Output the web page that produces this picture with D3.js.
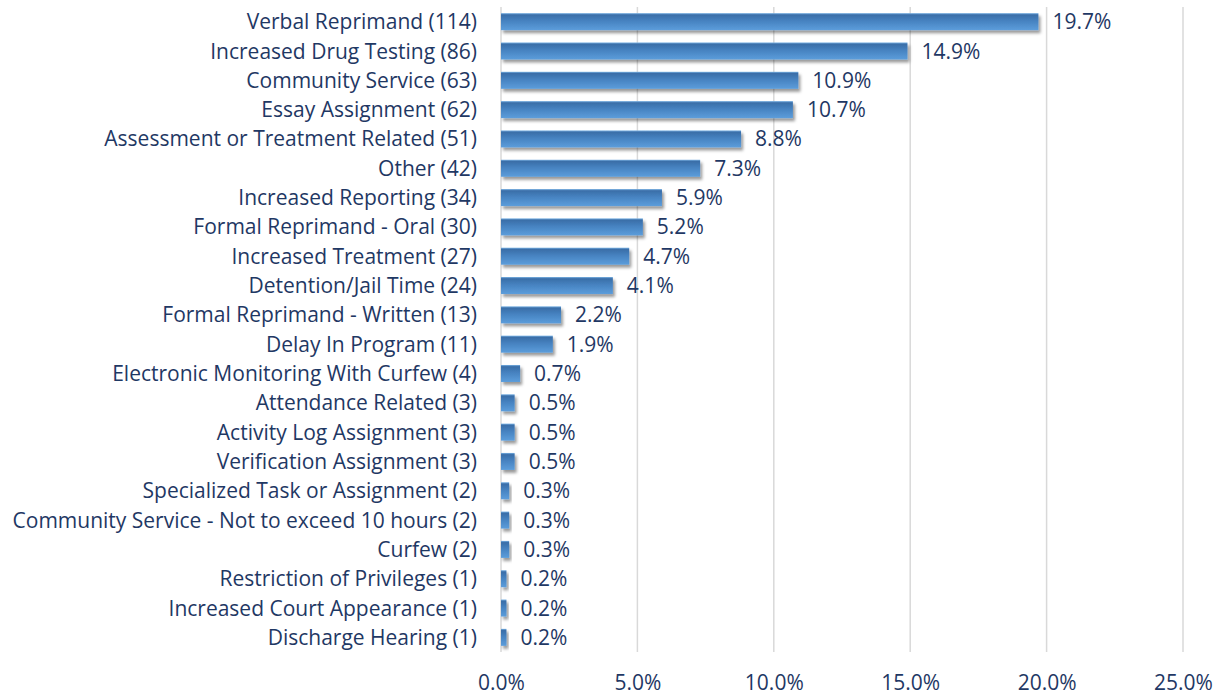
<!DOCTYPE html>
<html><head><meta charset="utf-8">
<script src="https://cdn.jsdelivr.net/npm/d3@7"></script>
<style>body{margin:0;background:#fff;} text{font-family:"Open Sans", Lato, sans-serif;}</style>
</head><body><svg id="c" width="1221" height="698"></svg>
<script>
const categories = ["Verbal Reprimand (114)","Increased Drug Testing (86)","Community Service (63)","Essay Assignment (62)","Assessment or Treatment Related (51)","Other (42)","Increased Reporting (34)","Formal Reprimand - Oral (30)","Increased Treatment (27)","Detention/Jail Time (24)","Formal Reprimand - Written (13)","Delay In Program (11)","Electronic Monitoring With Curfew (4)","Attendance Related (3)","Activity Log Assignment (3)","Verification Assignment (3)","Specialized Task or Assignment (2)","Community Service - Not to exceed 10 hours (2)","Curfew (2)","Restriction of Privileges (1)","Increased Court Appearance (1)","Discharge Hearing (1)"];
const values = [19.7,14.9,10.9,10.7,8.8,7.3,5.9,5.2,4.7,4.1,2.2,1.9,0.7,0.5,0.5,0.5,0.3,0.3,0.3,0.2,0.2,0.2];
const ticks = [0,5,10,15,20,25];

const svg = d3.select("#c");
const m = {left:501, right:1183, top:7, bottom:652};
const x = d3.scaleLinear().domain([0,25]).range([m.left, m.right]);
const y = d3.scaleBand().domain(categories).range([m.top, m.bottom]).paddingInner(0.42).paddingOuter(0.21);
const txt = "#1F3864";
const fs = 21;

const defs = svg.append("defs");
const g = defs.append("linearGradient").attr("id","bar").attr("x1",0).attr("y1",0).attr("x2",0).attr("y2",1);
[[0,"#7ab2e4"],[0.1,"#3a6ea8"],[0.45,"#4682c0"],[1,"#5c9ddb"]].forEach(([o,c])=>g.append("stop").attr("offset",o).attr("stop-color",c));
const f = defs.append("filter").attr("id","ds").attr("x","-20%").attr("y","-50%").attr("width","150%").attr("height","250%");
f.append("feDropShadow").attr("dx",2).attr("dy",3).attr("stdDeviation",1.8)
  .attr("flood-color","#000").attr("flood-opacity",0.4);

// gridlines
svg.append("g").selectAll("line").data(ticks).join("line")
  .attr("x1",d=>x(d)).attr("x2",d=>x(d)).attr("y1",m.top).attr("y2",m.bottom)
  .attr("stroke","#d9d9d9").attr("stroke-width",1.5);

// bars
svg.append("g").selectAll("rect").data(values).join("rect")
  .attr("x",x(0)).attr("y",(d,i)=>y(categories[i]))
  .attr("width",d=>x(d)-x(0)).attr("height",y.bandwidth()).attr("fill","url(#bar)")
  .attr("filter","url(#ds)");

// value labels
svg.append("g").selectAll("text").data(values).join("text")
  .attr("x",d=>x(d)+14).attr("y",(d,i)=>y(categories[i])+y.bandwidth()/2)
  .attr("dy","0.36em").attr("fill",txt).attr("font-size",fs)
  .text(d=>d.toFixed(1)+"%");

// category labels
svg.append("g").selectAll("text").data(categories).join("text")
  .attr("x",477).attr("y",d=>y(d)+y.bandwidth()/2).attr("dy","0.36em")
  .attr("text-anchor","end").attr("fill",txt).attr("font-size",fs).text(d=>d);

// x axis labels
const ax = svg.append("g").attr("transform",`translate(0,${m.bottom})`).call(d3.axisBottom(x).tickValues(ticks).tickFormat(d=>d.toFixed(1)+"%").tickSize(0).tickPadding(23));
ax.select(".domain").remove();
ax.selectAll("text").attr("fill",txt).attr("font-size",fs).style("font-family","'Open Sans', Lato, sans-serif");
</script></body></html>
